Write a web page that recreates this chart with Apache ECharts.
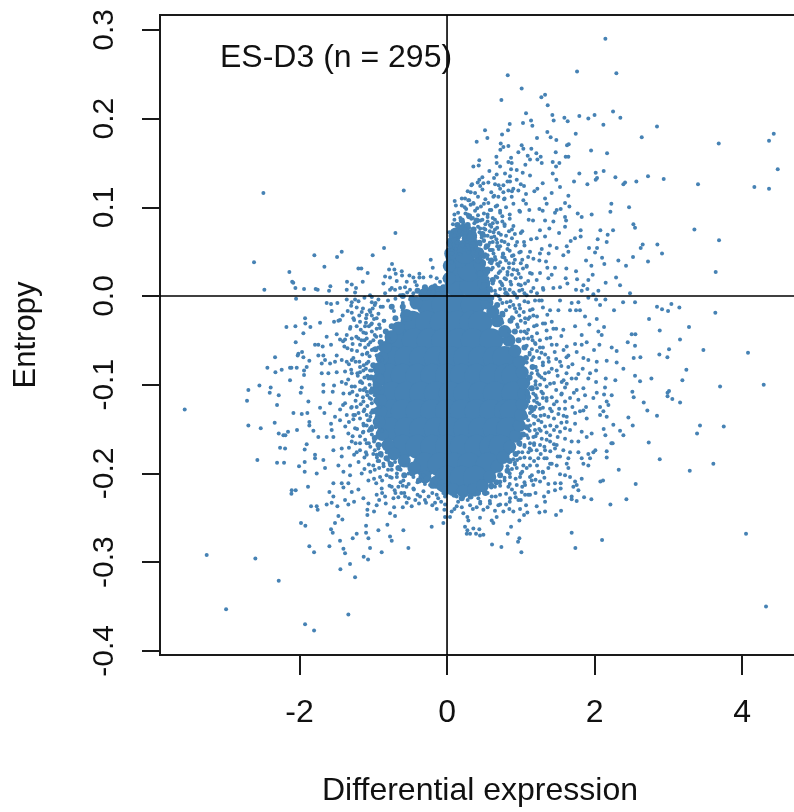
<!DOCTYPE html>
<html><head><meta charset="utf-8">
<script src="https://cdn.jsdelivr.net/npm/echarts@6/dist/echarts.min.js"></script>
<style>html,body{margin:0;padding:0;background:#fff}#c{width:794px;height:812px}</style>
</head><body><div id="c"></div>
<script>
const xTicks=[-2,0,2,4];
const yTicks=[-0.4,-0.3,-0.2,-0.1,0,0.1,0.2,0.3];
const upperRight=[[2.147,.29],[.823,.249],[1.763,.253],[2.296,.251],[1.012,.234],[.737,.221],[1.279,.224],[1.329,.227],[1.365,.215],[1.071,.206],[1.428,.204],[1.794,.203],[2.251,.208],[2,.204],[1.916,.2],[2.35,.201],[1.591,.201],[1.636,.197],[1.446,.198],[1.139,.198],[1.03,.195],[1.157,.192],[.85,.194],[2.12,.193],[2.847,.191],[.515,.187],[.827,.187],[.746,.182],[1.36,.185],[1.745,.183],[2.64,.179],[.547,.178],[.402,.174],[1.22,.178],[1.405,.179],[1.482,.176],[3.684,.172],[4.43,.183],[4.366,.175],[4.484,.143],[.728,.172],[.764,.168],[.832,.169],[.723,.165],[1.012,.17],[1.035,.166],[1.143,.166],[.967,.162],[1.627,.17],[1.65,.171],[1.953,.164],[2.17,.161],[1.474,.162],[.669,.157],[.868,.156],[1.094,.158],[1.211,.161],[1.27,.157],[1.609,.157],[1.645,.157],[.438,.153],[.357,.146],[.429,.147],[.673,.15],[.832,.151],[.877,.15],[1.125,.154],[1.225,.154],[1.284,.15],[1.433,.151],[1.523,.15],[1.478,.146],[.719,.146],[1.062,.148],[.574,.141],[.868,.143],[.945,.142],[1.026,.139],[1.125,.136],[1.794,.138],[2.016,.139],[2.124,.141],[1.433,.138],[.673,.137],[.786,.138],[.854,.135],[.479,.134],[.438,.131],[.945,.131],[.637,.133],[2.283,.134],[2.725,.135],[2.938,.132],[2.034,.133],[2.016,.131],[1.482,.131],[1.722,.129],[1.903,.126],[2.391,.126],[2.414,.128],[2.567,.129],[3.403,.126],[4.167,.123],[4.366,.121],[.33,.125],[.416,.128],[.493,.127],[.651,.126],[.764,.125],[.854,.129],[1.044,.124],[1.297,.127],[1.532,.123],[1.225,.121],[1.184,.118],[.899,.121],[.967,.119],[.321,.117],[.764,.117],[.832,.119],[1.419,.116],[1.645,.113],[1.071,.115],[.104,.107],[.244,.11],[.628,.112],[.696,.112],[.773,.109],[.877,.112],[.289,.108],[.357,.105],[1.329,.11],[1.6,.105],[1.659,.101],[1.035,.108],[1.351,.104],[1.071,.104],[2.228,.104],[2.468,.1],[2.215,.095],[1.961,.092],[1.772,.093],[1.826,.089],[1.252,.098],[1.297,.096],[.99,.095],[1.116,.097],[1.487,.097],[1.541,.098],[1.464,.094],[1.6,.089],[1.107,.086],[1.166,.085],[1.329,.085],[1.442,.084],[1.614,.085],[2.527,.081],[2.549,.077],[3.354,.075],[3.688,.063],[3.643,.027],[2.852,.058],[2.915,.048],[2.653,.058],[2.626,.054],[2.725,.039],[2.522,.044],[2.427,.034],[2.323,.04],[2.102,.043],[2.133,.036],[1.957,.034],[1.885,.04],[2.251,.074],[2.079,.074],[2.178,.069],[2.165,.061],[2.043,.064],[2.007,.049],[2.034,.054],[1.925,.054],[1.812,.074],[1.812,.067],[1.735,.065],[1.677,.062],[1.623,.056],[1.645,.05],[1.577,.046],[1.387,.076],[1.519,.071],[1.6,.078],[1.26,.074],[1.329,.067],[1.216,.065],[1.139,.064],[1.044,.061],[1.396,.057],[1.487,.054],[1.284,.053],[1.26,.048],[1.125,.05],[1.378,.048],[1.342,.039],[1.252,.04],[1.171,.042],[1.08,.034],[1.36,.032],[1.464,.032],[1.618,.031],[1.749,.028],[1.975,.024],[1.763,.019],[1.609,.02],[1.632,.014],[1.916,.018],[2.151,.015],[2.292,.021],[2.346,.012],[1.849,.012],[1.749,.007],[1.826,.006],[1.903,.008],[2.052,.006],[2.481,.003],[1.984,.002],[1.419,.024],[1.374,.02],[1.261,.026],[1.125,.026],[1.058,.014],[1.216,.018],[1.442,.009],[1.532,.01],[1.306,.007],[1.171,.009]];
const denseUpper=[[.2,.102],[.26,.098],[.32,.103],[.41,.099],[.5,.104],[.58,.097],[.66,.101],[.72,.096],[.1,.092],[.18,.088],[.25,.093],[.33,.087],[.42,.091],[.48,.086],[.55,.092],[.62,.088],[.75,.09],[.85,.087],[.08,.081],[.15,.078],[.22,.083],[.3,.077],[.37,.082],[.45,.076],[.52,.081],[.6,.078],[.68,.083],[.78,.079],[.88,.075],[.03,.072],[.1,.068],[.17,.073],[.24,.067],[.31,.071],[.38,.066],[.44,.072],[.51,.068],[.58,.073],[.64,.067],[.7,.071],[.8,.068],[.92,.07],[1.02,.073],[.03,.062],[.09,.058],[.15,.063],[.21,.057],[.27,.061],[.33,.056],[.39,.062],[.45,.058],[.5,.063],[.56,.057],[.62,.061],[.68,.056],[.74,.062],[.83,.058],[.95,.061],[1.05,.057],[.02,.052],[.07,.048],[.12,.053],[.18,.047],[.23,.052],[.29,.049],[.34,.053],[.4,.048],[.46,.052],[.52,.047],[.58,.052],[.63,.048],[.7,.053],[.76,.047],[.85,.051],[.9,.046],[1,.05],[.02,.042],[.06,.038],[.45,.043],[.5,.038],[.55,.042],[.6,.037],[.66,.041],[.72,.038],[.78,.043],[.84,.037],[.92,.041],[1,.037],[1.1,.044],[.5,.031],[.56,.027],[.62,.032],[.7,.026],[.76,.031],[.82,.027],[.9,.03],[.97,.025],[1.03,.031],[.55,.02],[.62,.015],[.68,.021],[.74,.014],[.8,.019],[.87,.013],[.93,.02],[1,.012],[.6,.006],[.66,.002],[.72,.008],[.79,.003],[.85,.007],[.92,.002],[.98,.006],[1.05,.003],[.13,.06],[.24,.075],[.36,.074],[.47,.066],[.55,.084],[.65,.075]];
const upperLeft=[[-2.49,.116],[-.587,.119],[-.7,.071],[-.854,.054],[-1.008,.046],[-1.428,.05],[-1.491,.044],[-1.799,.046],[-2.617,.038],[-1.663,.033],[-2.138,.027],[-1.202,.031],[-1.162,.031],[-1.076,.026],[-.746,.036],[-.786,.03],[-.714,.03],[-.696,.025],[-.614,.028],[-.61,.023],[-.84,.022],[-.773,.021],[-.221,.041],[-.194,.032],[-.221,.022],[-.51,.023],[-.375,.025],[-.456,.021],[-.375,.021],[-.321,.021],[-.14,.02],[-2.1,.016],[-2.085,.015],[-2.477,.007],[-2.056,.009],[-1.939,.008],[-1.781,.008],[-1.754,.007],[-1.6,.006],[-1.582,.011],[-1.356,.016],[-1.292,.013],[-1.234,.009],[-1.143,.016],[-.863,.014],[-.682,.017],[-.547,.016],[-.434,.016],[-.75,.009],[-.705,.007],[-.637,.009],[-.57,.01],[-.502,.007],[-.411,.012],[-.285,.009],[-.163,.012],[-.095,.016],[-.027,.018],[-1.36,.007],[-1.247,.004],[-1.044,.001],[-.84,.003],[-.773,.007],[-.637,.001],[-.456,.003],[-.321,.001],[-.185,.005],[-.072,.007],[-.25,.004],[-.12,.003],[-.39,.006],[-.54,.004]];
const lowerLeft=[[-2.047,-.003],[-3.557,-.128],[-2.694,-.106],[-2.712,-.118],[-2.544,-.101],[-2.391,-.103],[-2.404,-.109],[-2.282,-.112],[-2.305,-.123],[-2.694,-.146],[-2.526,-.149],[-2.337,-.143],[-2.572,-.185],[-2.305,-.188],[-2.21,-.188],[-2.264,-.171],[-2.196,-.172],[-2.282,-.155],[-2.219,-.157],[-2.192,-.157],[-2.156,-.153],[-2.034,-.151],[-2.332,-.069],[-2.436,-.081],[-2.327,-.086],[-2.242,-.083],[-2.129,-.081],[-2.11,-.081],[-2.129,-.095],[-2.038,-.081],[-1.939,-.084],[-1.903,-.08],[-1.939,-.089],[-1.97,-.103],[-1.984,-.109],[-2.178,-.035],[-2.056,-.034],[-1.925,-.025],[-1.921,-.031],[-1.853,-.035],[-1.722,-.03],[-1.948,-.042],[-2.052,-.052],[-2.016,-.065],[-2.025,-.067],[-1.966,-.063],[-1.948,-.069],[-1.867,-.073],[-1.632,-.008],[-1.573,-.009],[-1.487,-.008],[-1.564,-.017],[-1.36,-.004],[-1.292,-.007],[-1.247,-.004],[-1.02,-.001],[-1.02,-.007],[-1.532,-.029],[-1.473,-.028],[-1.451,-.027],[-1.347,-.017],[-1.292,-.019],[-1.225,-.013],[-1.157,-.018],[-1.089,-.021],[-1.008,-.014],[-1.415,-.022],[-1.27,-.025],[-1.18,-.029],[-1.098,-.025],[-1.02,-.022],[-.954,-.025],[-1.315,-.037],[-1.225,-.034],[-1.112,-.034],[-1.02,-.031],[-1.632,-.046],[-1.496,-.043],[-1.36,-.044],[-1.292,-.048],[-1.451,-.049],[-1.383,-.049],[-1.134,-.041],[-1.02,-.04],[-.954,-.037],[-1.202,-.048],[-1.089,-.048],[-1.79,-.055],[-1.745,-.055],[-1.686,-.057],[-1.573,-.055],[-1.392,-.057],[-1.292,-.061],[-1.18,-.055],[-1.066,-.055],[-.999,-.05],[-1.745,-.067],[-1.677,-.067],[-1.496,-.067],[-1.586,-.076],[-1.519,-.074],[-1.428,-.072],[-1.36,-.074],[-1.292,-.072],[-1.189,-.074],[-1.699,-.076],[-1.654,-.072],[-1.089,-.065],[-1.066,-.074],[-.954,-.067],[-1.02,-.061],[-1.699,-.087],[-1.609,-.087],[-1.496,-.086],[-1.383,-.085],[-1.292,-.087],[-1.216,-.087],[-1.134,-.084],[-1.044,-.084],[-.954,-.08],[-1.428,-.097],[-1.677,-.1],[-1.532,-.101],[-1.292,-.102],[-1.18,-.097],[-1.066,-.093],[-.976,-.091],[-1.677,-.108],[-1.55,-.108],[-1.405,-.11],[-1.283,-.108],[-1.134,-.106],[-1.02,-.104],[-.908,-.104],[-1.88,-.119],[-1.722,-.126],[-1.586,-.121],[-1.45,-.128],[-1.383,-.121],[-1.292,-.125],[-1.225,-.125],[-1.134,-.119],[-1.02,-.121],[-.908,-.125],[-2.083,-.132],[-1.97,-.133],[-1.894,-.132],[-1.663,-.132],[-1.519,-.136],[-1.36,-.134],[-1.247,-.134],[-1.089,-.134],[-.954,-.136],[-1.867,-.142],[-1.867,-.146],[-1.573,-.144],[-1.451,-.14],[-1.27,-.139],[-1.134,-.144],[-1.02,-.147],[-1.812,-.152],[-1.745,-.159],[-1.632,-.159],[-1.541,-.159],[-1.564,-.151],[-1.338,-.155],[-1.247,-.149],[-1.134,-.153],[-.954,-.159],[-1.903,-.167],[-1.93,-.173],[-1.541,-.174],[-1.428,-.172],[-1.292,-.164],[-1.18,-.166],[-1.089,-.166],[-.908,-.168],[-1.79,-.179],[-1.79,-.183],[-1.677,-.185],[-1.428,-.181],[-1.225,-.176],[-1.089,-.179],[-.954,-.179],[-.818,-.176],[-2.007,-.192],[-1.93,-.187],[-1.93,-.198],[-1.654,-.194],[-1.767,-.2],[-1.473,-.191],[-1.315,-.191],[-1.157,-.2],[-1,-.191],[-.863,-.189],[-.705,-.187],[-.547,-.191],[-1.405,-.198],[-1.315,-.202],[-1.066,-.208],[-.908,-.204],[-.773,-.204],[-.592,-.208],[-.456,-.204],[-.321,-.202],[-.14,-.204],[-2.106,-.219],[-2.052,-.219],[-2.11,-.223],[-1.885,-.215],[-1.541,-.211],[-1.428,-.211],[-1.338,-.211],[-1.202,-.218],[-.886,-.217],[-.66,-.215],[-.456,-.217],[-.23,-.213],[-.027,-.213],[-1.595,-.221],[-1.541,-.226],[-1.405,-.216],[-1.292,-.221],[-1.134,-.228],[-.954,-.224],[-.84,-.226],[-.727,-.228],[-.569,-.226],[-.366,-.226],[-.14,-.224],[-.027,-.226],[-1.564,-.233],[-1.632,-.235],[-1.383,-.23],[-1.338,-.235],[-1.261,-.232],[-1.066,-.234],[-.954,-.236],[-.831,-.234],[-.718,-.238],[-.547,-.233],[-.479,-.237],[-.285,-.233],[-.163,-.233],[-.027,-.235],[-.036,-.241],[-1.844,-.237],[-1.767,-.237],[-1.754,-.241],[-1.487,-.237],[-1.08,-.241],[-1.08,-.247],[-.99,-.243],[-.773,-.245],[-.705,-.248],[-1.473,-.248],[-1.419,-.252],[-.027,-.249],[-1.98,-.256],[-1.921,-.259],[-1.519,-.256],[-1.098,-.259],[-1.098,-.267],[-.809,-.258],[-.931,-.264],[-.592,-.264],[-.208,-.26],[-.05,-.256],[-1.573,-.263],[-1.55,-.267],[-1.225,-.268],[-1.279,-.273],[-1.066,-.273],[-.773,-.271],[-.75,-.276],[-1.451,-.276],[-1.867,-.282],[-1.803,-.289],[-1.595,-.282],[-1.405,-.285],[-1.383,-.29],[-1.044,-.284],[-.886,-.289],[-.524,-.284],[-1.13,-.294],[-1.071,-.297],[-3.259,-.292],[-2.599,-.296],[-1.315,-.302],[-1.446,-.308],[-1.247,-.317],[-2.282,-.321],[-2.996,-.353],[-1.338,-.359],[-1.925,-.37],[-1.803,-.377],[-.9,-.012],[-.85,-.028],[-.9,-.045],[-.93,-.058],[-.88,-.072],[-.98,-.112],[-1.05,-.115],[-.97,-.128],[-1.05,-.14],[-.88,-.152],[-.92,-.186],[-.8,-.185],[-.75,-.196],[-.68,-.2],[-.63,-.196],[-.52,-.2],[-.4,-.21],[-.3,-.212],[-.55,-.215],[-.2,-.222],[-.75,-.215],[-.62,-.222],[-.8,-.005],[-.7,-.003],[-.6,-.008],[-.5,-.004],[-.72,-.017],[-.6,-.016]];
const lowerRight=[[4.325,-.35],[4.054,-.268],[3.638,-.019],[4.294,-.1],[4.081,-.064],[3.702,-.102],[3.752,-.147],[3.43,-.146],[3.39,-.155],[3.611,-.189],[3.291,-.197],[2.884,-.184],[2.735,-.165],[2.847,-.135],[3.16,-.12],[3.055,-.116],[2.99,-.109],[3.01,-.107],[2.99,-.113],[3.191,-.095],[3.245,-.083],[3.476,-.061],[3.159,-.049],[3.281,-.035],[3.15,-.013],[3.042,-.009],[2.997,-.017],[2.915,-.015],[2.847,-.012],[2.739,-.026],[2.884,-.039],[3.01,-.06],[2.988,-.069],[2.879,-.066],[2.622,-.069],[2.531,-.07],[2.549,-.056],[2.45,-.052],[2.504,-.043],[2.554,-.043],[2.771,-.093],[2.549,-.09],[2.617,-.096],[2.513,-.108],[2.531,-.114],[2.667,-.12],[2.716,-.129],[2.459,-.137],[2.518,-.146],[2.346,-.152],[2.391,-.157],[2.255,-.145],[2.124,-.15],[2.147,-.157],[2.228,-.166],[2.246,-.166],[2.165,-.175],[2.165,-.182],[2.328,-.196],[2.558,-.212],[2.432,-.229],[2.215,-.235],[2.079,-.209],[2.115,-.208],[1.957,-.229],[1.858,-.227],[1.758,-.231],[1.69,-.226],[1.69,-.229],[1.6,-.227],[1.736,-.209],[1.758,-.213],[1.781,-.219],[1.826,-.206],[1.713,-.215],[1.69,-.267],[2.102,-.275],[1.74,-.284],[1.546,-.242],[1.478,-.247],[1.329,-.243],[1.252,-.244],[1.216,-.237],[1.329,-.232],[1.315,-.226],[1.374,-.221],[1.464,-.219],[1.541,-.217],[1.541,-.211],[1.464,-.211],[1.374,-.212],[1.261,-.209],[1.6,-.202],[1.532,-.201],[1.668,-.204],[1.297,-.198],[1.148,-.208],[1.125,-.224],[1.071,-.236],[1.089,-.244],[1.044,-.247],[.981,-.253],[.868,-.26],[.823,-.268],[.981,-.273],[.963,-.277],[1.008,-.289],[.737,-.283],[.61,-.28],[.493,-.269],[.447,-.27],[.393,-.268],[.312,-.268],[.267,-.268],[.276,-.264],[.438,-.263],[.357,-.262],[.244,-.26],[.628,-.256],[.606,-.253],[.673,-.249],[.447,-.25],[.289,-.253],[.221,-.245],[.276,-.249],[.764,-.243],[.899,-.243],[.99,-.24],[.845,-.24],[.696,-.236],[.583,-.234],[.493,-.241],[.402,-.238],[.312,-.236],[.131,-.237],[.063,-.243],[.04,-.249],[.967,-.23],[.854,-.228],[1.058,-.224],[1.012,-.221],[.719,-.224],[.606,-.226],[.425,-.228],[.312,-.226],[.221,-.226],[.131,-.226],[.832,-.215],[.945,-.213],[1.058,-.213],[1.125,-.204],[.719,-.209],[.854,-.204],[.99,-.204],[.945,-.194],[1.035,-.191],[1.125,-.191],[1.238,-.198],[1.374,-.194],[1.487,-.191],[1.645,-.194],[1.623,-.189],[1.397,-.189],[1.826,-.183],[1.849,-.189],[1.916,-.191],[1.939,-.183],[1.916,-.178],[1.984,-.176],[2.011,-.174],[1.781,-.176],[1.668,-.176],[1.577,-.174],[1.464,-.172],[1.329,-.174],[1.216,-.174],[1.103,-.176],[.967,-.176],[1.645,-.183],[1.532,-.181],[1.351,-.183],[1.238,-.183],[1.125,-.183],[.99,-.183],[.99,-.168],[1.125,-.166],[1.261,-.168],[1.397,-.164],[1.487,-.168],[1.6,-.161],[1.69,-.164],[1.781,-.164],[1.894,-.159],[1.961,-.155],[1.171,-.159],[1.284,-.161],[1.397,-.157],[1.532,-.153],[1.668,-.151],[1.826,-.153],[1.736,-.144],[1.623,-.142],[1.487,-.147],[1.329,-.147],[1.193,-.151],[1.08,-.157],[1.125,-.146],[1.238,-.14],[1.374,-.136],[1.51,-.133],[1.623,-.136],[1.736,-.132],[1.894,-.138],[1.849,-.129],[1.885,-.125],[2.075,-.125],[2.12,-.13],[2.165,-.136],[2.188,-.123],[2.165,-.119],[2.075,-.134],[1.125,-.132],[1.261,-.127],[1.397,-.127],[1.6,-.127],[1.803,-.13],[1.103,-.119],[1.216,-.115],[1.351,-.115],[1.487,-.119],[1.555,-.11],[1.668,-.115],[1.781,-.117],[1.871,-.112],[1.984,-.115],[2.03,-.109],[2.129,-.111],[2.233,-.112],[2.142,-.103],[2.021,-.097],[2.152,-.093],[2.282,-.095],[1.125,-.104],[1.261,-.1],[1.397,-.099],[1.555,-.097],[1.623,-.099],[1.69,-.093],[1.781,-.088],[1.916,-.093],[1.939,-.087],[2.021,-.084],[1.849,-.104],[1.758,-.106],[1.148,-.087],[1.329,-.087],[1.487,-.084],[1.645,-.08],[1.84,-.082],[2.03,-.074],[2.165,-.073],[2.3,-.075],[2.391,-.082],[1.171,-.069],[1.374,-.07],[1.532,-.074],[1.645,-.067],[1.758,-.063],[1.849,-.07],[1.916,-.072],[1.993,-.061],[2.066,-.055],[2.233,-.058],[2.3,-.062],[1.193,-.053],[1.351,-.048],[1.487,-.055],[1.623,-.057],[1.736,-.054],[1.826,-.055],[1.894,-.052],[1.826,-.044],[2.052,-.04],[2.097,-.044],[2.129,-.035],[1.216,-.033],[1.329,-.031],[1.442,-.037],[1.577,-.038],[1.736,-.034],[1.93,-.032],[2.03,-.026],[1.871,-.023],[1.803,-.016],[1.668,-.016],[1.749,-.016],[1.51,-.016],[1.397,-.016],[2.264,-.016],[2.075,-.01],[2.021,-.004],[2.147,-.004],[2.387,-.007],[2.549,-.007],[1.916,-.002],[1.781,-.007],[1.69,-.008],[1.532,-.005],[1.284,-.005],[1.193,-.005],[1.125,-.016],[.99,-.014],[.899,-.01],[.809,-.007],[1.058,-.025],[1.171,-.022],[.899,-.025],[.764,-.022],[1.15,-.06],[1.05,-.04],[.96,-.035],[1.08,-.075],[1.1,-.095],[1.17,-.11],[1.08,-.11],[1.2,-.125],[1.1,-.14],[1.17,-.135],[1.27,-.135],[1.3,-.115],[1.25,-.09],[1.2,-.08],[1.3,-.075],[1.26,-.058],[1.1,-.048],[1.27,-.152],[1.05,-.17],[1.18,-.168],[.95,-.185],[.88,-.195],[.78,-.205],[.65,-.215],[.55,-.222],[.75,-.03],[.65,-.012],[.58,-.005],[.72,-.004],[.85,-.04]];
const fringeLeft=[[-.93,-.004],[-1.12,-.002],[-1.2,-.006],[-.87,-.012],[-.98,-.01],[-1.14,-.014],[-1.3,-.011],[-.93,-.02],[-1.04,-.018],[-1.19,-.022],[-.86,-.028],[-.99,-.026],[-1.1,-.03],[-1.26,-.027],[-.91,-.036],[-1.06,-.034],[-1.17,-.038],[-1.31,-.035],[-.98,-.044],[-1.1,-.042],[-1.23,-.046],[-1.04,-.052],[-1.16,-.05],[-1.28,-.054],[-1.41,-.051],[-1,-.06],[-1.11,-.058],[-1.22,-.062],[-1.35,-.059],[-1.05,-.068],[-1.15,-.066],[-1.27,-.07],[-1.09,-.076],[-1.13,-.078],[-1.24,-.074],[-1.33,-.077],[-1.02,-.084],[-1.1,-.082],[-1.18,-.086],[-1.3,-.083],[-1.12,-.092],[-1.21,-.09],[-1.34,-.094],[-1.05,-.1],[-1.15,-.098],[-1.25,-.102],[-1.37,-.099],[-1.09,-.108],[-1.18,-.106],[-1.32,-.11],[-1.03,-.116],[-1.14,-.114],[-1.24,-.118],[-1.08,-.124],[-1.17,-.122],[-1.3,-.126],[-1.41,-.123],[-1.03,-.132],[-1.13,-.13],[-1.27,-.134],[-1.07,-.14],[-1.18,-.138],[-1.33,-.142],[-.97,-.148],[-1.09,-.146],[-1.22,-.15],[-1.38,-.147],[-1.02,-.156],[-1.14,-.154],[-1.28,-.158],[-.99,-.164],[-1.11,-.162],[-1.24,-.166],[-.93,-.172],[-1.04,-.17],[-1.18,-.174],[-1.33,-.171],[-.89,-.18],[-1,-.178],[-1.12,-.182],[-1.26,-.179],[-.78,-.188],[-.94,-.186],[-1.06,-.19],[-1.2,-.187],[-.8,-.196],[-.92,-.194],[-1.04,-.198],[-1.12,-.195],[-.68,-.204],[-.82,-.202],[-.99,-.206],[-.52,-.212],[-.63,-.21],[-.78,-.214],[-.96,-.211],[-.32,-.22],[-.45,-.218],[-.58,-.222],[-.71,-.219],[-.88,-.222],[-.12,-.228],[-.25,-.226],[-.43,-.23],[-.66,-.227],[-.92,-.23],[-.2,-.236],[-.38,-.234],[-.6,-.238],[-.97,-.008],[-1.05,-.016],[-.92,-.032],[-1.03,-.032],[-1.12,-.05],[-.96,-.046],[-1.08,-.064],[-1.18,-.08],[-1.08,-.09],[-1.17,-.096],[-1.11,-.104],[-1.22,-.112],[-1.08,-.112],[-1.12,-.128],[-1.2,-.132],[-1.04,-.136],[-1.13,-.146],[-1.06,-.152],[-1.18,-.158],[-1.06,-.166],[-.98,-.174],[-1.1,-.176],[-.95,-.182],[-.86,-.192],[-.98,-.196],[-.75,-.205],[-.88,-.208],[-.6,-.214],[-.7,-.222],[-.4,-.224],[-.52,-.228],[-.3,-.23],[-.14,-.24],[-.08,-.232],[-.05,-.222]];
const fringeRight=[[.15,-.232],[.28,-.23],[.45,-.234],[.58,-.231],[.72,-.235],[.85,-.232],[1,-.23],[.38,-.224],[.5,-.222],[.66,-.226],[.8,-.223],[.93,-.227],[1.1,-.224],[1.2,-.222],[.6,-.216],[.72,-.214],[.88,-.218],[1.02,-.215],[1.17,-.213],[.78,-.208],[.93,-.206],[1.05,-.21],[1.2,-.207],[1.32,-.205],[.85,-.2],[1.02,-.198],[1.15,-.202],[1.3,-.199],[.82,-.192],[.92,-.19],[1.08,-.194],[1.22,-.191],[1.42,-.189],[.9,-.184],[1.05,-.182],[1.18,-.186],[1.32,-.183],[1.5,-.181],[1.02,-.176],[1.14,-.174],[1.27,-.178],[1.4,-.175],[1.05,-.168],[1.18,-.166],[1.32,-.17],[1.45,-.167],[1.1,-.16],[1.2,-.158],[1.35,-.162],[1.5,-.159],[1.12,-.152],[1.25,-.15],[1.35,-.154],[1.45,-.151],[1.6,-.149],[1.18,-.144],[1.28,-.142],[1.4,-.146],[1.55,-.143],[1.2,-.136],[1.32,-.134],[1.45,-.138],[1.58,-.135],[1.18,-.128],[1.3,-.126],[1.42,-.13],[1.52,-.127],[1.7,-.125],[1.22,-.12],[1.35,-.118],[1.45,-.122],[1.6,-.119],[1.2,-.112],[1.3,-.11],[1.42,-.114],[1.55,-.111],[1.72,-.109],[1.22,-.104],[1.35,-.102],[1.48,-.106],[1.6,-.103],[1.2,-.096],[1.32,-.094],[1.45,-.098],[1.58,-.095],[1.75,-.093],[1.23,-.088],[1.38,-.086],[1.5,-.09],[1.62,-.087],[1.2,-.08],[1.3,-.078],[1.42,-.082],[1.55,-.079],[1.7,-.077],[1.15,-.072],[1.25,-.07],[1.38,-.074],[1.48,-.071],[1.62,-.069],[1.12,-.064],[1.22,-.062],[1.33,-.066],[1.46,-.063],[1.58,-.061],[1.08,-.056],[1.2,-.054],[1.3,-.058],[1.42,-.055],[1.04,-.048],[1.15,-.046],[1.26,-.05],[1.4,-.047],[1.55,-.045],[1,-.04],[1.1,-.038],[1.22,-.042],[1.35,-.039],[1.48,-.037],[.95,-.032],[1.06,-.03],[1.18,-.034],[1.3,-.031],[1.42,-.029],[.88,-.024],[.98,-.022],[1.1,-.026],[1.22,-.023],[1.36,-.021],[.8,-.016],[.92,-.014],[1.04,-.018],[1.16,-.015],[1.3,-.013],[.75,-.008],[.86,-.006],[.98,-.01],[1.1,-.007],[1.25,-.005],[.7,0],[.82,.002],[.95,-.002],[1.08,.001],[1.22,.003],[1.1,-.15],[1.22,-.155],[1.15,-.13],[1.25,-.122],[1.18,-.118],[1.28,-.108],[1.2,-.1],[1.28,-.092],[1.22,-.084],[1.12,-.066],[1.28,-.064],[1.16,-.05],[1.08,-.042],[1,-.028],[1.12,-.024],[.94,-.018],[.85,-.012],[1.05,-.006],[1,-.16],[1.12,-.172],[.92,-.188],[1,-.2],[.72,-.21],[.85,-.212],[.45,-.232],[.55,-.238],[.2,-.238],[.1,-.24],[.35,-.24],[.65,-.242],[.8,-.235],[.92,-.222]];
const fringeUpper=[[.65,.006],[.78,.008],[.9,.004],[1.02,.007],[1.14,.005],[1.3,.009],[.62,.014],[.75,.012],[.86,.016],[.97,.013],[1.1,.017],[.66,.022],[.78,.02],[.88,.024],[1,.021],[1.15,.025],[.6,.03],[.72,.028],[.84,.032],[.95,.029],[1.08,.033],[.58,.038],[.68,.036],[.8,.04],[.9,.037],[1.02,.041],[.55,.046],[.65,.044],[.76,.048],[.88,.045],[.98,.049],[.52,.054],[.6,.052],[.72,.056],[.82,.053],[.93,.057],[.5,.062],[.58,.06],[.67,.064],[.78,.061],[.88,.065],[.48,.07],[.55,.068],[.63,.072],[.73,.069],[.84,.073],[1,.071],[.42,.078],[.5,.076],[.58,.08],[.68,.077],[.78,.081],[.9,.079],[.1,.086],[.2,.084],[.35,.088],[.45,.085],[.55,.089],[.65,.086],[.75,.084],[.15,.094],[.28,.092],[.38,.096],[.5,.093],[.6,.097],[.72,.094],[.85,.092],[.98,.096],[.12,.102],[.24,.1],[.36,.104],[.46,.101],[.56,.105],[.68,.102],[.8,.1],[.9,.104],[.2,.11],[.3,.108],[.42,.112],[.52,.109],[.64,.113],[.78,.11],[.28,.118],[.38,.116],[.48,.12],[.6,.117],[.72,.121],[.88,.118],[.34,.126],[.45,.124],[.56,.128],[.7,.125],[.82,.129],[1,.126],[.8,.004],[.72,.016],[.82,.024],[.7,.034],[.75,.044],[.62,.052],[.68,.06],[.6,.066],[.52,.075],[.62,.082]];
const shell=[[-.48,-.002],[-.6,-.012],[-.55,-.02],[-.7,-.025],[-.75,-.034],[-.83,-.04],[-.8,-.05],[-.9,-.052],[-.97,-.06],[-.92,-.07],[-1,-.078],[-.95,-.085],[-1.03,-.092],[-.97,-.1],[-1.03,-.108],[-.96,-.118],[-1,-.13],[-.95,-.14],[-1.03,-.15],[-.98,-.16],[-.93,-.168],[-.9,-.178],[-.82,-.183],[-.76,-.19],[-.66,-.194],[-.58,-.202],[-.47,-.2],[-.38,-.208],[-.28,-.206],[-.2,-.214],[-.1,-.216],[-.02,-.222],[.1,-.224],[.2,-.228],[.32,-.226],[.42,-.222],[.52,-.222],[.6,-.214],[.67,-.21],[.72,-.202],[.82,-.197],[.85,-.186],[.93,-.178],[.98,-.166],[1.03,-.156],[1.08,-.148],[1.06,-.136],[1.14,-.126],[1.1,-.114],[1.15,-.104],[1.12,-.092],[1.16,-.08],[1.07,-.07],[1.05,-.058],[.97,-.05],[.92,-.04],[.86,-.028],[.75,-.02],[.68,-.01],[.6,-.002],[.58,.008],[.62,.018],[.55,.03],[.6,.04],[.5,.045],[.54,.056],[.44,.06],[.48,.07],[.36,.075],[.4,.085],[.28,.08],[.3,.09],[.2,.085],[.14,.08],[.12,.07],[.06,.068],[.06,.05],[.24,.065],[.35,.058],[.42,.04],[.45,.025],[.5,.012],[-.4,.006],[-.3,.01],[-.2,.003],[-.12,.008],[-.05,.01],[-.02,.02],[-.03,.005],[-.6,0],[-.75,-.012]];
const midRing=[[-.42,-.008],[-.55,-.022],[-.66,-.036],[-.76,-.046],[-.84,-.058],[-.88,-.07],[-.92,-.082],[-.93,-.094],[-.93,-.106],[-.9,-.118],[-.9,-.13],[-.92,-.142],[-.88,-.156],[-.8,-.168],[-.72,-.178],[-.58,-.186],[-.45,-.194],[-.3,-.204],[-.15,-.21],[-.05,-.214],[.08,-.218],[.22,-.22],[.36,-.218],[.48,-.214],[.58,-.204],[.68,-.192],[.76,-.182],[.85,-.17],[.93,-.158],[.98,-.146],[1,-.134],[1.02,-.122],[1.04,-.11],[1.04,-.098],[1.02,-.086],[.98,-.074],[.92,-.062],[.84,-.05],[.78,-.04],[.68,-.028],[.62,-.018],[.54,-.008],[.5,.002],[.5,.014],[.48,.026],[.44,.036],[.42,.048],[.34,.058],[.32,.068],[.22,.074],[.12,.07],[.08,.06],[.05,.048],[.03,.034],[.03,.02],[-.3,.002],[-.18,.006],[-.08,.004]];
const core=[[-.25,-.01],[-.05,-.01],[.15,-.01],[.35,-.01],[-.47,-.03],[-.27,-.03],[-.07,-.03],[.13,-.03],[.33,-.03],[.45,-.03],[-.65,-.05],[-.45,-.05],[-.25,-.05],[-.05,-.05],[.15,-.05],[.35,-.05],[.6,-.05],[-.75,-.07],[-.55,-.07],[-.35,-.07],[-.15,-.07],[.05,-.07],[.25,-.07],[.45,-.07],[.65,-.07],[.78,-.07],[-.78,-.09],[-.6,-.09],[-.4,-.09],[-.2,-.09],[0,-.09],[.2,-.09],[.4,-.09],[.6,-.09],[.8,-.09],[.9,-.09],[-.75,-.11],[-.55,-.11],[-.35,-.11],[-.15,-.11],[.05,-.11],[.25,-.11],[.45,-.11],[.65,-.11],[.9,-.11],[-.75,-.13],[-.6,-.13],[-.4,-.13],[-.2,-.13],[0,-.13],[.2,-.13],[.4,-.13],[.6,-.13],[.8,-.13],[.88,-.13],[-.78,-.15],[-.55,-.15],[-.35,-.15],[-.15,-.15],[.05,-.15],[.25,-.15],[.45,-.15],[.65,-.15],[.83,-.15],[-.6,-.17],[-.4,-.17],[-.2,-.17],[0,-.17],[.2,-.17],[.4,-.17],[.6,-.17],[.73,-.17],[-.3,-.19],[-.1,-.19],[.1,-.19],[.3,-.19],[.55,-.19],[0,-.205],[.2,-.205],[.38,-.205],[.13,.012],[.33,.012],[.17,.03],[.3,.03],[.14,.045],[.24,.05]];
const gridBox={left:160,top:15,width:640,height:640};
const xRange=[-3.892,4.786];
const yRange=[-0.4047,0.3168];
const ink='#1a1a1a',blue='#4682B4',font='"Liberation Sans",Arial,sans-serif';
const scat=(name,data,size)=>({name,type:'scatter',data,symbolSize:size,silent:true,itemStyle:{color:blue,opacity:1},z:2});
const dot=4;
const chart=echarts.init(document.getElementById('c'),null,{renderer:'canvas'});
chart.setOption({
 animation:false,
 backgroundColor:'#fff',
 title:{text:'ES-D3 (n = 295)',left:215,top:37,textStyle:{fontFamily:font,fontSize:32,fontWeight:'normal',color:'#111'}},
 grid:{...gridBox,outerBoundsMode:'none',show:true,borderColor:ink,borderWidth:2,backgroundColor:'transparent'},
 xAxis:{type:'value',min:xRange[0],max:xRange[1],splitLine:{show:false},
  name:'Differential expression',nameLocation:'middle',nameGap:120,nameTextStyle:{fontFamily:font,fontSize:32,color:'#111'},
  axisLine:{show:false,onZero:false},
  axisTick:{show:true,length:20,customValues:xTicks,lineStyle:{color:ink,width:2}},
  axisLabel:{show:true,customValues:xTicks,margin:42,fontFamily:font,fontSize:32,color:'#111'}},
 yAxis:{type:'value',min:yRange[0],max:yRange[1],splitLine:{show:false},
  name:'Entropy',nameLocation:'middle',nameGap:118,nameTextStyle:{fontFamily:font,fontSize:31,color:'#111'},
  axisLine:{show:false,onZero:false},
  axisTick:{show:true,length:18,customValues:yTicks,lineStyle:{color:ink,width:2}},
  axisLabel:{show:true,customValues:yTicks,rotate:90,margin:40,fontFamily:font,fontSize:30,color:'#111',formatter:v=>v.toFixed(1)}},
 series:[
  scat('core',core,24),
  scat('midRing',midRing,13),
  scat('shell',shell,6),
  scat('denseUpper',denseUpper,dot),
  scat('fringeLeft',fringeLeft,dot),
  scat('fringeRight',fringeRight,dot),
  scat('fringeUpper',fringeUpper,dot),
  scat('upperRight',upperRight,dot),
  scat('upperLeft',upperLeft,dot),
  scat('lowerLeft',lowerLeft,dot),
  scat('lowerRight',lowerRight,dot),
  {type:'line',silent:true,symbol:'none',z:5,data:[[xRange[0],0],[xRange[1],0]],lineStyle:{color:'#000',width:1.6}},
  {type:'line',silent:true,symbol:'none',z:5,data:[[0,yRange[0]],[0,yRange[1]]],lineStyle:{color:'#000',width:1.6}}
 ]
});
</script></body></html>
